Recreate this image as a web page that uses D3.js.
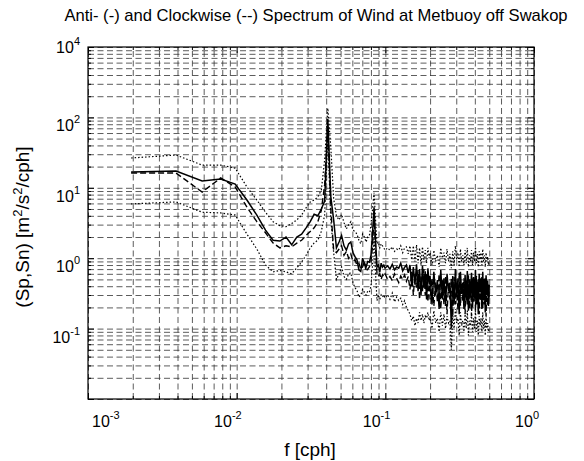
<!DOCTYPE html>
<html>
<head>
<meta charset="utf-8">
<script src="https://cdn.jsdelivr.net/npm/d3@7"></script>
<style>
body { margin: 0; background: #fff; }
text { font-family: "Liberation Sans", Arial, sans-serif; fill: #000; }
</style>
</head>
<body>
<svg width="584" height="461"></svg>
<script>
// frequencies (cph)
const freq = [
  0.00195, 0.00391, 0.00586, 0.00781, 0.00977, 0.01172, 0.01367, 0.01563, 0.01758, 0.01953,
  0.02148, 0.02344, 0.02539, 0.02734, 0.0293, 0.03125, 0.0332, 0.03516, 0.03711, 0.03906,
  0.04102, 0.04297, 0.04492, 0.04688, 0.04883, 0.05078, 0.05273, 0.05469, 0.05664, 0.05859,
  0.06055, 0.0625, 0.06445, 0.06641, 0.06836, 0.07031, 0.07227, 0.07422, 0.07617, 0.07813,
  0.08008, 0.08203, 0.08398, 0.08594, 0.08789, 0.08984, 0.0918, 0.09375, 0.0957, 0.09766, 0.09961,
  0.10352, 0.10742, 0.11133, 0.11523, 0.11914, 0.12305, 0.12695, 0.13086, 0.13477, 0.13867,
  0.14258, 0.14648, 0.15039, 0.1543, 0.1582, 0.16211, 0.16602, 0.16992, 0.17383, 0.17773,
  0.18164, 0.18555, 0.18945, 0.19336, 0.19727,
  0.2, 0.206, 0.212, 0.218, 0.224, 0.23, 0.236, 0.242, 0.248, 0.254,
  0.26, 0.266, 0.272, 0.278, 0.284, 0.29, 0.296, 0.302, 0.308, 0.314,
  0.32, 0.326, 0.332, 0.338, 0.344, 0.35, 0.356, 0.362, 0.368, 0.374,
  0.38, 0.386, 0.392, 0.398, 0.404, 0.41, 0.416, 0.422, 0.428, 0.434,
  0.44, 0.446, 0.452, 0.458, 0.464, 0.47, 0.476, 0.482, 0.488, 0.494, 0.5
];

// anticlockwise spectrum (solid)
const antiSpec = [
  16.8, 17.3, 12.5, 13.3, 11.3, 6.7, 4.1, 2.5, 1.8, 1.75,
  2.0, 1.55, 2.0, 2.2, 2.7, 3.3, 4.2, 4.0, 5.0, 6.5,
  95, 7.5, 3.5, 1.4, 1.7, 2.1, 1.5, 1.3, 1.6, 1.7,
  1.2, 1.05, 0.95, 0.68, 0.65, 1.0, 0.85, 0.75, 0.9, 0.88,
  1.1, 2.3, 5.3, 1.8, 0.75, 0.8, 0.64, 0.85, 0.75, 0.8, 0.72,
  0.78, 0.7, 0.82, 0.68, 0.75, 0.72, 0.85, 0.66, 0.74, 0.8,
  0.62, 0.8, 0.4, 0.75, 0.42, 0.82, 0.34, 0.7, 0.3, 0.78,
  0.38, 0.65, 0.26, 0.72, 0.42,
  0.56, 0.22, 0.64, 0.3, 0.49, 0.19, 0.68, 0.26, 0.52, 0.21,
  0.6, 0.34, 0.45, 0.1, 0.56, 0.22, 0.7, 0.28, 0.52, 0.16,
  0.64, 0.31, 0.45, 0.19, 0.58, 0.25, 0.66, 0.18, 0.5, 0.3,
  0.62, 0.2, 0.54, 0.27, 0.68, 0.22, 0.46, 0.16, 0.6, 0.33,
  0.52, 0.19, 0.64, 0.25, 0.51, 0.17, 0.57, 0.3, 0.48, 0.21, 0.42
];

// clockwise spectrum (dashed)
const clockSpec = [
  16.2, 16.2, 8.7, 13.8, 10.3, 5.3, 3.3, 2.3, 1.64, 1.4,
  1.5, 1.45, 1.64, 1.8, 2.1, 2.4, 2.7, 3.3, 4.8, 11,
  78, 5, 1.3, 1.2, 1.35, 1.5, 1.1, 1.25, 1.0, 1.15,
  0.9, 0.95, 0.8, 0.85, 0.7, 0.75, 0.9, 0.65, 0.7, 0.75,
  0.9, 1.5, 4.0, 1.4, 0.6, 0.55, 0.6, 0.5, 0.58, 0.55, 0.6,
  0.5, 0.55, 0.48, 0.6, 0.52, 0.45, 0.56, 0.5, 0.58, 0.47,
  0.55, 0.36, 0.64, 0.3, 0.6, 0.38, 0.68, 0.26, 0.55, 0.34,
  0.7, 0.3, 0.6, 0.24, 0.5,
  0.26, 0.52, 0.21, 0.45, 0.24, 0.6, 0.19, 0.49, 0.22, 0.56,
  0.16, 0.44, 0.26, 0.51, 0.15, 0.54, 0.22, 0.45, 0.18, 0.62,
  0.21, 0.41, 0.25, 0.52, 0.16, 0.49, 0.22, 0.58, 0.19, 0.45,
  0.15, 0.52, 0.24, 0.46, 0.18, 0.56, 0.22, 0.5, 0.16, 0.44,
  0.25, 0.54, 0.19, 0.45, 0.22, 0.52, 0.15, 0.46, 0.21, 0.42, 0.26
];

// confidence limits (dotted)
const upperLimit = [
  26.5, 29.2, 21, 21, 19, 10.3, 6.7, 4.5, 3.3, 2.9,
  2.8, 3.1, 3.5, 4.1, 5.2, 6.3, 6.7, 7.4, 9.3, 24.8,
  135, 38, 7, 4.0, 3.5, 4.2, 3.2, 2.6, 3.0, 3.3,
  2.5, 2.4, 2.2, 1.8, 1.6, 2.2, 2.0, 1.7, 2.0, 2.1,
  3.0, 5.0, 8.5, 3.5, 1.6, 1.7, 1.4, 1.6, 1.5, 1.4, 1.3,
  1.4, 1.3, 1.45, 1.25, 1.35, 1.3, 1.5, 1.2, 1.4, 1.45,
  1.15, 1.5, 0.95, 1.5, 0.9, 1.55, 0.85, 1.4, 0.8, 1.45,
  0.95, 1.3, 0.85, 1.4, 1.0,
  1.2, 0.8, 1.3, 0.9, 1.1, 0.75, 1.4, 1.0, 1.2, 0.85,
  1.35, 0.9, 1.15, 0.72, 1.25, 0.8, 1.5, 0.95, 1.2, 0.75,
  1.35, 0.9, 1.1, 0.8, 1.3, 0.85, 1.4, 0.75, 1.1, 0.9,
  1.3, 0.8, 1.2, 0.9, 1.45, 0.85, 1.15, 0.75, 1.25, 0.95,
  1.2, 0.8, 1.35, 0.9, 1.1, 0.75, 1.2, 0.9, 1.05, 0.8, 0.9
];
const lowerLimit = [
  5.9, 6.3, 4.5, 4.4, 4.1, 2.2, 1.35, 0.8, 0.64, 0.67,
  0.64, 0.6, 0.73, 0.88, 1.1, 1.4, 1.65, 1.8, 2.4, 4.1,
  50, 3.5, 1.2, 0.5, 0.6, 0.75, 0.55, 0.5, 0.6, 0.62,
  0.45, 0.38, 0.35, 0.28, 0.3, 0.36, 0.33, 0.3, 0.34, 0.33,
  0.4, 0.8, 2.0, 0.6, 0.25, 0.3, 0.26, 0.3, 0.28, 0.3, 0.27,
  0.3, 0.26, 0.32, 0.24, 0.28, 0.25, 0.27, 0.22, 0.25, 0.2,
  0.18, 0.16, 0.13, 0.15, 0.11, 0.14, 0.12, 0.17, 0.13, 0.16,
  0.12, 0.15, 0.14, 0.17, 0.13,
  0.15, 0.1, 0.18, 0.12, 0.14, 0.09, 0.17, 0.11, 0.16, 0.1,
  0.15, 0.12, 0.13, 0.05, 0.16, 0.1, 0.19, 0.12, 0.14, 0.08,
  0.17, 0.11, 0.13, 0.09, 0.16, 0.1, 0.18, 0.08, 0.13, 0.11,
  0.16, 0.09, 0.14, 0.1, 0.18, 0.09, 0.13, 0.08, 0.15, 0.11,
  0.14, 0.09, 0.17, 0.1, 0.13, 0.08, 0.15, 0.1, 0.12, 0.09, 0.1
];

// tick labels
const xDecades = [1e-3, 1e-2, 1e-1, 1];
const xExps = ["-3", "-2", "-1", "0"];
const yDecades = [1e3, 1e2, 1e1, 1, 1e-1];
const yExps = ["4", "2", "1", "0", "-1"];

const titleText = "Anti- (-) and Clockwise (--) Spectrum of Wind at Metbuoy off Swakop";

const mLeft = 88, mRight = 534, mTop = 47, mBottom = 399;
const svg = d3.select("svg");

const x = d3.scaleLog().domain([1e-3, 1]).range([mLeft, mRight]);
const y = d3.scaleLog().domain([1e-2, 1e3]).range([mBottom, mTop]);

// dashed grid at every minor position
svg.append("g")
    .attr("class", "grid")
    .attr("transform", `translate(0,${mBottom})`)
    .call(d3.axisBottom(x).tickValues(x.ticks()).tickSize(-(mBottom - mTop)).tickFormat(""));
svg.append("g")
    .attr("class", "grid")
    .attr("transform", `translate(${mLeft},0)`)
    .call(d3.axisLeft(y).tickValues(y.ticks()).tickSize(-(mRight - mLeft)).tickFormat(""));
svg.selectAll(".grid .domain").remove();
svg.selectAll(".grid line")
    .style("stroke", "#333")
    .style("stroke-width", 0.8)
    .style("stroke-dasharray", "6,3.5");

// inward ticks on the four sides
const isMajor = v => Math.abs(Math.log10(v) - Math.round(Math.log10(v))) < 1e-6;
function tickAxis(axis, scale, tr, attr, sign) {
    const g = svg.append("g")
        .attr("class", "ticks")
        .attr("transform", tr)
        .call(axis(scale).tickValues(scale.ticks()).tickFormat(""));
    g.selectAll(".tick line")
        .attr(attr, d => sign * (isMajor(d) ? 6 : 3));
    g.select(".domain").remove();
}
tickAxis(d3.axisBottom, x, `translate(0,${mBottom})`, "y2", -1);
tickAxis(d3.axisTop, x, `translate(0,${mTop})`, "y2", 1);
tickAxis(d3.axisLeft, y, `translate(${mLeft},0)`, "x2", 1);
tickAxis(d3.axisRight, y, `translate(${mRight},0)`, "x2", -1);
svg.selectAll(".ticks line").style("stroke", "#000").style("stroke-width", 1);

// data lines
const line = d3.line()
    .x((d, i) => x(freq[i]))
    .y(d => y(d));

const series = [
    { values: upperLimit, dash: "1.5,2", width: 1.2 },
    { values: lowerLimit, dash: "1.5,2", width: 1.2 },
    { values: clockSpec, dash: "6,3", width: 1.4 },
    { values: antiSpec, dash: null, width: 1.5 }
];
svg.append("g")
    .selectAll("path")
    .data(series)
    .join("path")
    .attr("d", d => line(d.values))
    .style("fill", "none")
    .style("stroke", "#000")
    .style("stroke-width", d => d.width)
    .style("stroke-dasharray", d => d.dash);

// axes box
svg.append("rect")
    .attr("x", mLeft).attr("y", mTop)
    .attr("width", mRight - mLeft).attr("height", mBottom - mTop)
    .style("fill", "none")
    .style("stroke", "#000")
    .style("stroke-width", 1.2);

// x tick labels
const xl = svg.append("g")
    .selectAll("text")
    .data(xDecades)
    .join("text")
    .attr("x", (d, i) => i === 0 ? x(d) + 4 : x(d) + 5)
    .attr("y", 427)
    .attr("text-anchor", (d, i) => i === 0 ? "start" : "end")
    .style("font-size", "16px");
xl.append("tspan").text("10");
xl.append("tspan").text((d, i) => xExps[i]).attr("dy", -8).style("font-size", "11px");

// y tick labels
const yl = svg.append("g")
    .selectAll("text")
    .data(yDecades)
    .join("text")
    .attr("x", 80)
    .attr("y", (d, i) => i === 0 ? y(d) + 6 : y(d) + 14)
    .attr("text-anchor", "end")
    .style("font-size", "16px");
yl.append("tspan").text("10");
yl.append("tspan").text((d, i) => yExps[i]).attr("dy", -8).style("font-size", "11px");

// title and axis labels
svg.append("text")
    .attr("x", 316).attr("y", 21)
    .attr("text-anchor", "middle")
    .style("font-size", "16.6px")
    .text(titleText);

svg.append("text")
    .attr("x", 310).attr("y", 456)
    .attr("text-anchor", "middle")
    .style("font-size", "19px")
    .text("f [cph]");

const yLab = svg.append("text")
    .attr("transform", `translate(29,${(mTop + mBottom) / 2 + 4}) rotate(-90)`)
    .attr("text-anchor", "middle")
    .style("font-size", "19px");
yLab.append("tspan").text("(Sp,Sn) [m");
yLab.append("tspan").text("2").attr("dy", -7).style("font-size", "13px");
yLab.append("tspan").text("/s").attr("dy", 7);
yLab.append("tspan").text("2").attr("dy", -7).style("font-size", "13px");
yLab.append("tspan").text("/cph]").attr("dy", 7);
</script>
</body>
</html>
